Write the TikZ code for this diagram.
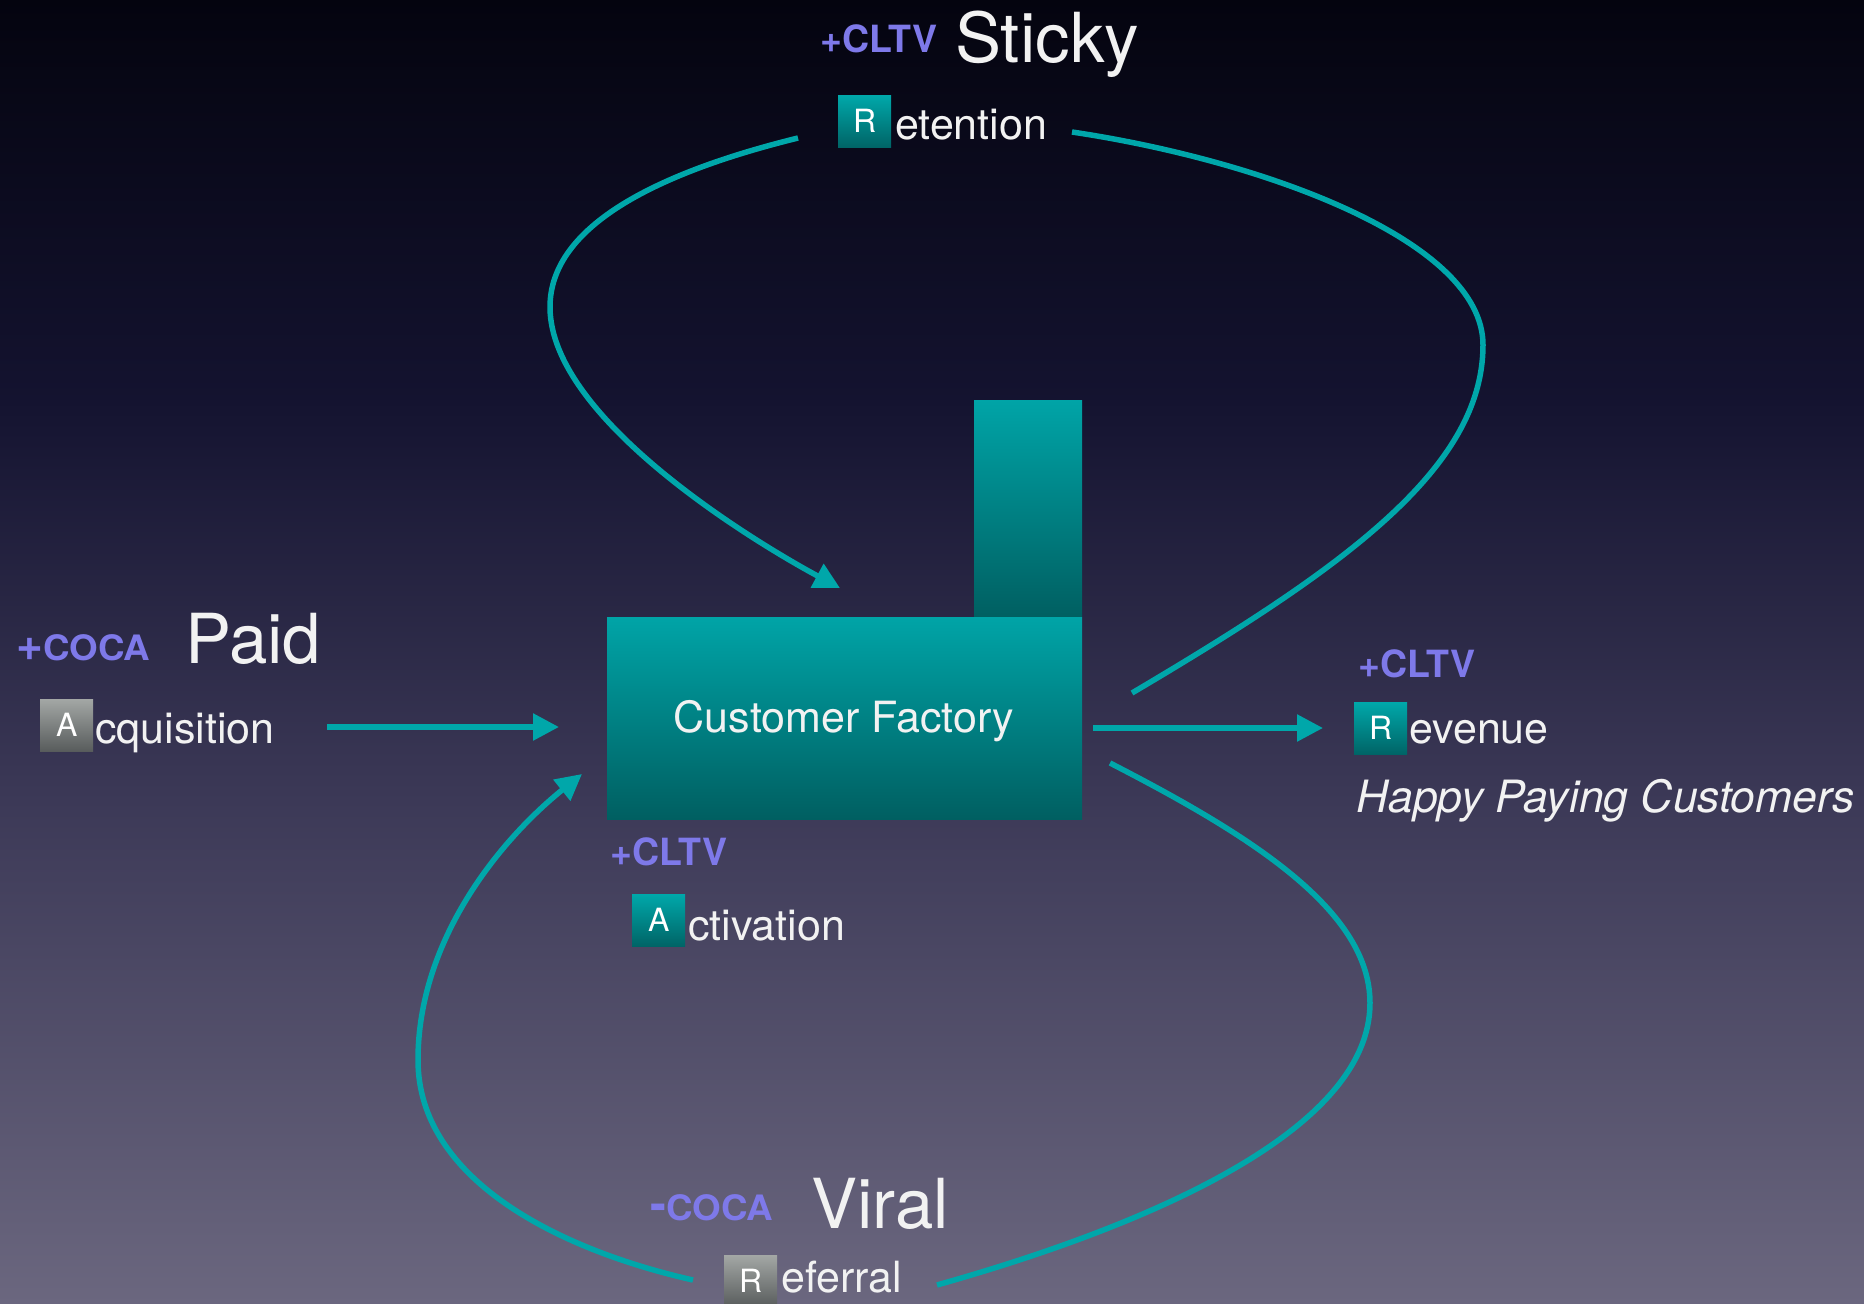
\documentclass[tikz,border=0pt]{standalone}
\usepackage{fontspec}
\setmainfont{TeX Gyre Heros}
\usepackage{graphicx}
\usetikzlibrary{arrows.meta}
\definecolor{bgA}{HTML}{04040F}
\definecolor{bgB}{HTML}{141330}
\definecolor{bgC}{HTML}{3C3957}
\definecolor{bgD}{HTML}{6B677F}
\definecolor{flowc}{HTML}{00A7AA}
\definecolor{purp}{HTML}{7E79E9}
\definecolor{txt}{HTML}{F2F2F2}
\definecolor{tealtop}{HTML}{00A8AA}
\definecolor{tealbot}{HTML}{006466}
\definecolor{facttop}{HTML}{00A4A7}
\definecolor{factbot}{HTML}{005F61}
\definecolor{graytop}{HTML}{A3A7A5}
\definecolor{graybot}{HTML}{585C5C}
\newcommand\bigwordfont{\fontsize{69pt}{69pt}\selectfont}
\newcommand\wordfont{\fontsize{43pt}{43pt}\selectfont}
\newcommand\cffont{\fontsize{43pt}{43pt}\selectfont}
\newcommand\tagfont{\fontsize{37.5pt}{37.5pt}\selectfont\bfseries}
\newcommand\boxletterfont{\fontsize{32pt}{32pt}\selectfont}
\newcommand\cocaword{\scalebox{1.05}[1]{\fontsize{35pt}{35pt}\selectfont\bfseries COCA}}
\begin{document}
\begin{tikzpicture}[x=1pt,y=-1pt,
  word/.style={anchor=base west,inner sep=0pt,text=txt,font=\wordfont},
  bigword/.style={anchor=base west,inner sep=0pt,text=txt,font=\bigwordfont},
  tagtext/.style={anchor=base west,inner sep=0pt,text=purp,font=\tagfont},
  letterbox/.style={anchor=north west,minimum width=53pt,minimum height=52pt,inner sep=0pt,text=white,font=\boxletterfont},
  tealbox/.style={letterbox,top color=tealtop,bottom color=tealbot},
  graybox/.style={letterbox,top color=graytop,bottom color=graybot},
  factpart/.style={anchor=north west,inner sep=0pt,top color=facttop,bottom color=factbot},
  flow/.style={draw=flowc,line width=5.5pt},
  flowarrow/.style={flow,-{Triangle[length=26pt,width=26pt]}}]
\useasboundingbox (0,0) rectangle (1864,1304);
\clip (0,0) rectangle (1864,1304);
% background
\fill[top color=bgA,bottom color=bgB] (0,0) rectangle (1864,401);
\fill[top color=bgB,bottom color=bgC] (0,400) rectangle (1864,801);
\fill[top color=bgC,bottom color=bgD] (0,800) rectangle (1864,1304);

% factory
\node[factpart,minimum width=108pt,minimum height=217pt] (chimney) at (974,400) {};
\node[factpart,minimum width=475pt,minimum height=202pt] (factory) at (607,617) {};
\node[anchor=base,inner sep=0pt,text=txt,font=\cffont] (cflabel) at (844,732) {Customer Factory};

% Retention (top)
\node[tagtext] (cltvtop) at (820,52) {+CLTV};
\node[bigword] (sticky) at (955,62) {Sticky};
\node[tealbox] (rbox) at (838,95) {\raisebox{-3pt}{R}};
\node[word] (retention) at (895,139) {etention};

% Acquisition (left)
\node[anchor=base west,inner sep=0pt,text=purp] (cocaplus) at (16,660) {{\fontsize{46pt}{46pt}\selectfont\bfseries +}\cocaword};
\node[bigword] (paid) at (185,663) {Paid};
\node[graybox] (abox) at (40,699) {\raisebox{-3pt}{A}};
\node[word] (acquisition) at (95,743) {cquisition};

% Revenue (right)
\node[tagtext] (cltvrev) at (1358,677) {+CLTV};
\node[tealbox] (revbox) at (1354,702) {\raisebox{-3pt}{R}};
\node[word] (revenue) at (1409,743) {evenue};
\node[anchor=base west,inner sep=0pt,text=txt,font=\fontsize{44.5pt}{44.5pt}\selectfont\itshape] (happy) at (1356,812) {Happy Paying Customers};

% Activation (below factory)
\node[tagtext] (cltvact) at (610,865) {+CLTV};
\node[tealbox] (actbox) at (632,894) {\raisebox{-3pt}{A}};
\node[word] (activation) at (688,940) {ctivation};

% Referral (bottom)
\node[anchor=base west,inner sep=0pt,text=purp] (cocaminus) at (650,1220) {{\fontsize{48pt}{48pt}\selectfont\bfseries -}\cocaword};
\node[bigword] (viral) at (811,1228) {Viral};
\node[graybox] (refbox) at (724,1255) {\raisebox{-3pt}{R}};
\node[word] (referral) at (781,1292) {eferral};

% connector end points
\coordinate (acqstart) at (327,727);
\coordinate (acqend) at (559,727);
\coordinate (revstart) at (1093,728);
\coordinate (revend) at (1323,728);
\coordinate (retLstart) at (798,138);
\coordinate (retLend) at (840,588);
\coordinate (retRstart) at (1072,132);
\coordinate (retRend) at (1132,693);
\coordinate (virRstart) at (1110,763);
\coordinate (virRend) at (937,1285);
\coordinate (virLstart) at (693,1280);
\coordinate (virLend) at (582,774);

% connectors
\draw[flowarrow] (acqstart) -- (acqend);
\draw[flowarrow] (revstart) -- (revend);
\draw[flowarrow] (retLstart) .. controls (660,172) and (550,225) .. (550,307)
  .. controls (550,420) and (760,545) .. (retLend);
\draw[flow] (retRstart) .. controls (1260,160) and (1483,240) .. (1483,345)
  .. controls (1483,470) and (1340,570) .. (retRend);
\draw[flow] (virRstart) .. controls (1250,835) and (1370,910) .. (1370,1003)
  .. controls (1370,1130) and (1150,1225) .. (virRend);
\draw[flowarrow] (virLstart) .. controls (560,1250) and (418,1180) .. (418,1060)
  .. controls (418,940) and (500,840) .. (virLend);
\end{tikzpicture}
\end{document}
